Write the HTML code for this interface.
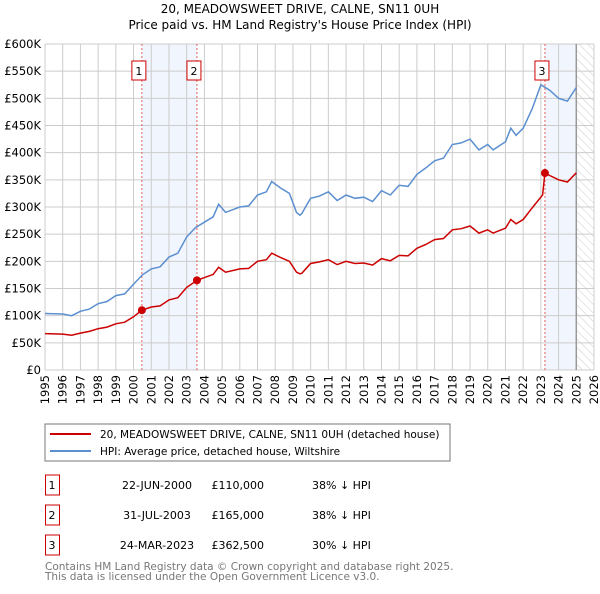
<!DOCTYPE html>
<html><head><meta charset="utf-8"><style>
body{margin:0;background:#fff;font-family:"DejaVu Sans","Liberation Sans",sans-serif;}
svg text{font-family:"DejaVu Sans","Liberation Sans",sans-serif;}
</style></head><body>
<svg id="c" width="600" height="590" xmlns="http://www.w3.org/2000/svg">
<defs><pattern id="hatch" width="6" height="6" patternUnits="userSpaceOnUse" patternTransform="rotate(-45)"><line x1="0" y1="0" x2="0" y2="6" stroke="#ccc" stroke-width="1"/></pattern></defs>
<text x="300" y="13" text-anchor="middle" font-size="12">20, MEADOWSWEET DRIVE, CALNE, SN11 0UH</text>
<text x="300" y="29" text-anchor="middle" font-size="12">Price paid vs. HM Land Registry's House Price Index (HPI)</text>
<g id="plot"></g>
<rect x="45" y="424" width="405" height="37" fill="none" stroke="#777"/>
<line x1="50" y1="434" x2="91" y2="434" stroke="#cc0000" stroke-width="2"/>
<text x="100" y="438" font-size="10.5">20, MEADOWSWEET DRIVE, CALNE, SN11 0UH (detached house)</text>
<line x1="50" y1="451" x2="91" y2="451" stroke="#5b8fd0" stroke-width="2"/>
<text x="100" y="455" font-size="10.5">HPI: Average price, detached house, Wiltshire</text>
<g id="table" font-size="11"></g>
<text x="45" y="570" font-size="10.5" fill="#777">Contains HM Land Registry data © Crown copyright and database right 2025.</text>
<text x="45" y="580" font-size="10.5" fill="#777">This data is licensed under the Open Government Licence v3.0.</text>
</svg>
<script>
const hpiYears=[1995,1996,1996.5,1997,1997.5,1998,1998.5,1999,1999.5,2000,2000.5,2001,2001.5,2002,2002.5,2003,2003.5,2004,2004.5,2004.8,2005.2,2006,2006.5,2007,2007.5,2007.8,2008.3,2008.8,2009.2,2009.4,2009.5,2010,2010.5,2011,2011.5,2012,2012.5,2013,2013.5,2014,2014.5,2015,2015.5,2016,2016.5,2017,2017.5,2018,2018.5,2019,2019.5,2020,2020.3,2021,2021.3,2021.6,2022,2022.5,2023,2023.5,2024,2024.5,2025];
const hpiValues=[104,103,100,108,112,122,126,137,140,158,175,186,190,208,215,245,262,272,282,305,290,300,302,322,328,347,335,325,290,285,288,316,320,328,312,322,316,318,310,330,322,340,338,360,372,385,390,415,418,425,405,415,405,420,445,432,445,480,525,515,500,495,520];
const ppYears=[1995,1996,1996.5,1997,1997.5,1998,1998.5,1999,1999.5,2000,2000.47,2001,2001.5,2002,2002.5,2003,2003.58,2004,2004.5,2004.8,2005.2,2006,2006.5,2007,2007.5,2007.8,2008.3,2008.8,2009.2,2009.4,2009.5,2010,2010.5,2011,2011.5,2012,2012.5,2013,2013.5,2014,2014.5,2015,2015.5,2016,2016.5,2017,2017.5,2018,2018.5,2019,2019.5,2020,2020.3,2021,2021.3,2021.6,2022,2022.5,2023.1,2023.23,2023.5,2024,2024.5,2025];
const ppValues=[67,66,64,68,71,76,79,85,88,98,110,116,118,129,133,152,165,170,176,189,180,186,187,200,203,215,207,200,180,177,178,196,199,203,194,200,196,197,193,205,201,211,210,224,231,240,242,258,260,265,252,258,252,261,277,269,277,298,322,362.5,358,350,346,363];
const saleYears=[2000.47,2003.58,2023.23];
const saleValues=[110,165,362.5];
const saleLabels=["1","2","3"];
const saleDates=["22-JUN-2000","31-JUL-2003","24-MAR-2023"];
const salePrices=["£110,000","£165,000","£362,500"];
const saleDiffs=["38% ↓ HPI","38% ↓ HPI","30% ↓ HPI"];
const yTicks=[0,50,100,150,200,250,300,350,400,450,500,550,600];
const xTicks=[1995,1996,1997,1998,1999,2000,2001,2002,2003,2004,2005,2006,2007,2008,2009,2010,2011,2012,2013,2014,2015,2016,2017,2018,2019,2020,2021,2022,2023,2024,2025,2026];
const X0=45,X1=594,Y0=370,Y1=44;
const xs=y=>X0+(y-1995)/(2026-1995)*(X1-X0);
const ys=v=>Y0-v/600*(Y0-Y1);
const NS="http://www.w3.org/2000/svg";
const plot=document.getElementById('plot');
function mk(t,a,p){const e=document.createElementNS(NS,t);for(const k in a)e.setAttribute(k,a[k]);(p||plot).appendChild(e);return e;}
let s=mk('rect',{x:xs(saleYears[0]),y:Y1,width:xs(saleYears[1])-xs(saleYears[0]),height:Y0-Y1,fill:'#f1f5fd'});


s=mk('rect',{x:xs(saleYears[2]),y:Y1,width:xs(2025)-xs(saleYears[2]),height:Y0-Y1,fill:'#f1f5fd'});


s=mk('rect',{x:xs(2025),y:Y1,width:X1-xs(2025),height:Y0-Y1,fill:'url(#hatch)'});


yTicks.forEach(v=>{
 const l=mk('line',{x1:X0,x2:X1,y1:ys(v),y2:ys(v),stroke:'#ccc'});
 
 
 const t=mk('text',{x:X0-4,y:ys(v)+4,'text-anchor':'end','font-size':'11.5'});
 t.textContent=v===0?'£0':'£'+v+'K';
 
 
});
xTicks.forEach(y=>{
 const l=mk('line',{x1:xs(y),x2:xs(y),y1:Y1,y2:Y0,stroke:'#ccc'});
 
 
 const t=mk('text',{x:0,y:0,'text-anchor':'end','font-size':'11.5',transform:`translate(${xs(y)+4},${Y0+5}) rotate(-90)`});
 t.textContent=y;
 
 
});
const bl=mk('line',{x1:xs(2025),x2:xs(2025),y1:Y1,y2:Y0,stroke:'#999','stroke-width':1.5});


saleYears.forEach((y,i)=>{
 const l=mk('line',{x1:xs(y),x2:xs(y),y1:Y1,y2:Y0,stroke:'#e06060','stroke-dasharray':'2,2'});
 
 
 const r=mk('rect',{x:xs(y)-10,y:61,width:14,height:19,fill:'#fff',stroke:'#cc0000'});
 
 
 const t=mk('text',{x:xs(y)-3,y:75,'text-anchor':'middle','font-size':'11'});
 t.textContent=saleLabels[i];
 
 
});
function path(xa,va){return xa.map((y,i)=>(i?'L':'M')+xs(y).toFixed(1)+','+ys(va[i]).toFixed(1)).join('');}
const hp=mk('path',{d:path(hpiYears,hpiValues),fill:'none',stroke:'#5b8fd0','stroke-width':1.5});


const pp=mk('path',{d:path(ppYears,ppValues),fill:'none',stroke:'#cc0000','stroke-width':1.5});


saleYears.forEach((y,i)=>{
 const c=mk('circle',{cx:xs(y),cy:ys(saleValues[i]),r:4,fill:'#cc0000'});
 
 
});
const tb=document.getElementById('table');
saleLabels.forEach((lab,i)=>{
 const yy=475+i*30;
 const r=mk('rect',{x:45.5,y:yy,width:14,height:20,fill:'none',stroke:'#cc0000'},tb);
 
 
 const cells=[[52,lab,'middle'],[157,saleDates[i],'middle'],[264,salePrices[i],'end'],[312,saleDiffs[i],'start']];
 cells.forEach(c=>{
  const t=mk('text',{x:c[0],y:yy+14,'text-anchor':c[2]},tb);
  t.textContent=c[1];
  
  
 });
});
</script>
</body></html>
